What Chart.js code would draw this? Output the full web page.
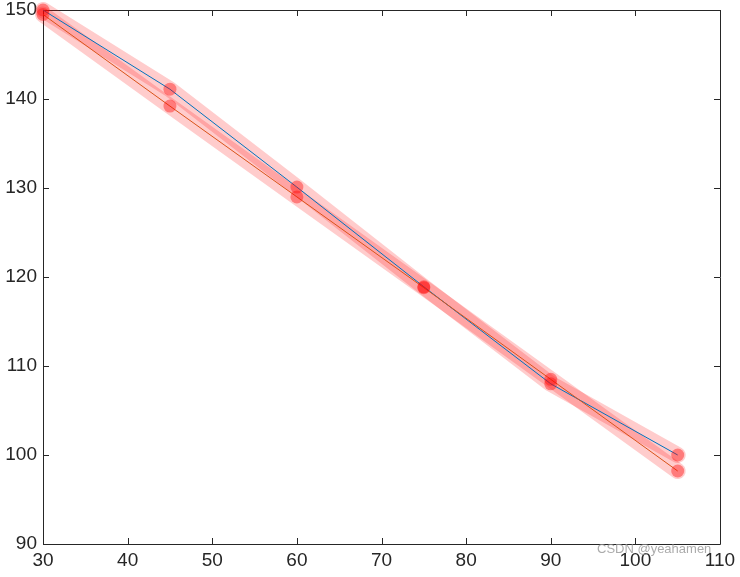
<!DOCTYPE html>
<html>
<head>
<meta charset="utf-8">
<script src="https://cdn.jsdelivr.net/npm/chart.js@4"></script>
<style>
html,body{margin:0;padding:0;background:#fff;}
#wrap{width:740px;height:577px;}
</style>
</head>
<body>
<div id="wrap"><canvas id="c" width="740" height="577"></canvas></div>
<script>
const xValues = [30, 45, 60, 75, 90, 105];
const blueSeries = [150.0, 141.1, 130.1, 118.9, 108.0, 100.0];
const redSeries = [149.5, 139.2, 129.0, 118.8, 108.5, 98.2];
const xTicks = [30, 40, 50, 60, 70, 80, 90, 100, 110];
const yTicks = [90, 100, 110, 120, 130, 140, 150];

const pts = arr => xValues.map((x, i) => ({x: x, y: arr[i]}));

const frame = {
  id: 'frame',
  beforeDatasetsDraw(chart) {
    const {ctx, chartArea: a, scales} = chart;
    ctx.save();
    ctx.strokeStyle = '#262626';
    ctx.lineWidth = 1;
    ctx.beginPath();
    ctx.rect(Math.round(a.left) + 0.5, Math.round(a.top) + 0.5, Math.round(a.right - a.left), Math.round(a.bottom - a.top));
    ctx.stroke();
    const L = 6;
    ctx.beginPath();
    xTicks.forEach(v => {
      const px = Math.round(scales.x.getPixelForValue(v)) + 0.5;
      ctx.moveTo(px, a.bottom); ctx.lineTo(px, a.bottom - L);
      ctx.moveTo(px, a.top); ctx.lineTo(px, a.top + L);
    });
    yTicks.forEach(v => {
      const py = Math.round(scales.y.getPixelForValue(v)) + 0.5;
      ctx.moveTo(a.left, py); ctx.lineTo(a.left + L, py);
      ctx.moveTo(a.right, py); ctx.lineTo(a.right - L, py);
    });
    ctx.stroke();
    ctx.restore();
  },
  afterDraw(chart) {
    const ctx = chart.ctx;
    ctx.save();
    ctx.fillStyle = 'rgba(150,150,150,0.8)';
    ctx.font = '13px "Liberation Sans", Arial, sans-serif';
    ctx.textAlign = 'left';
    ctx.textBaseline = 'alphabetic';
    ctx.fillText('CSDN @yeahamen', 597, 553);
    ctx.restore();
  }
};

new Chart(document.getElementById('c'), {
  type: 'line',
  data: {
    datasets: [
      {data: pts(blueSeries), clip: false, borderColor: 'rgba(255,0,0,0.2)', borderWidth: 16, pointRadius: 0, borderCapStyle: 'round', borderJoinStyle: 'round', order: 5},
      {data: pts(redSeries), clip: false, borderColor: 'rgba(255,0,0,0.2)', borderWidth: 16, pointRadius: 0, borderCapStyle: 'round', borderJoinStyle: 'round', order: 4},
      {data: pts(blueSeries), clip: false, borderColor: '#0072BD', borderWidth: 1, pointRadius: 0, order: 3},
      {data: pts(redSeries), clip: false, borderColor: '#D95319', borderWidth: 1, pointRadius: 0, order: 2},
      {data: pts(blueSeries), clip: false, showLine: false, pointRadius: 6.5, pointBorderWidth: 0, pointBackgroundColor: 'rgba(255,0,0,0.4)', order: 1},
      {data: pts(redSeries), clip: false, showLine: false, pointRadius: 6.5, pointBorderWidth: 0, pointBackgroundColor: 'rgba(255,0,0,0.4)', order: 0}
    ]
  },
  options: {
    responsive: false,
    animation: false,
    layout: {padding: {top: 10, right: 20, left: 0, bottom: 0}},
    plugins: {legend: {display: false}, tooltip: {enabled: false}},
    scales: {
      x: {
        type: 'linear', min: 30, max: 110,
        grid: {display: false, drawTicks: false},
        border: {display: false},
        afterBuildTicks: s => { s.ticks = xTicks.map(v => ({value: v})); },
        afterFit: s => { s.height = 33; s.paddingLeft = 0; s.paddingRight = 0; },
        ticks: {color: '#262626', padding: 5, maxRotation: 0, autoSkip: false, font: {family: '"Liberation Sans", Arial, sans-serif', size: 19}}
      },
      y: {
        type: 'linear', min: 90, max: 150,
        grid: {display: false, drawTicks: false},
        border: {display: false},
        afterBuildTicks: s => { s.ticks = yTicks.map(v => ({value: v})); },
        afterFit: s => { s.width = 43; s.paddingTop = 0; s.paddingBottom = 0; },
        ticks: {color: '#262626', padding: 6, autoSkip: false, font: {family: '"Liberation Sans", Arial, sans-serif', size: 19}}
      }
    }
  },
  plugins: [frame]
});
</script>
</body>
</html>
